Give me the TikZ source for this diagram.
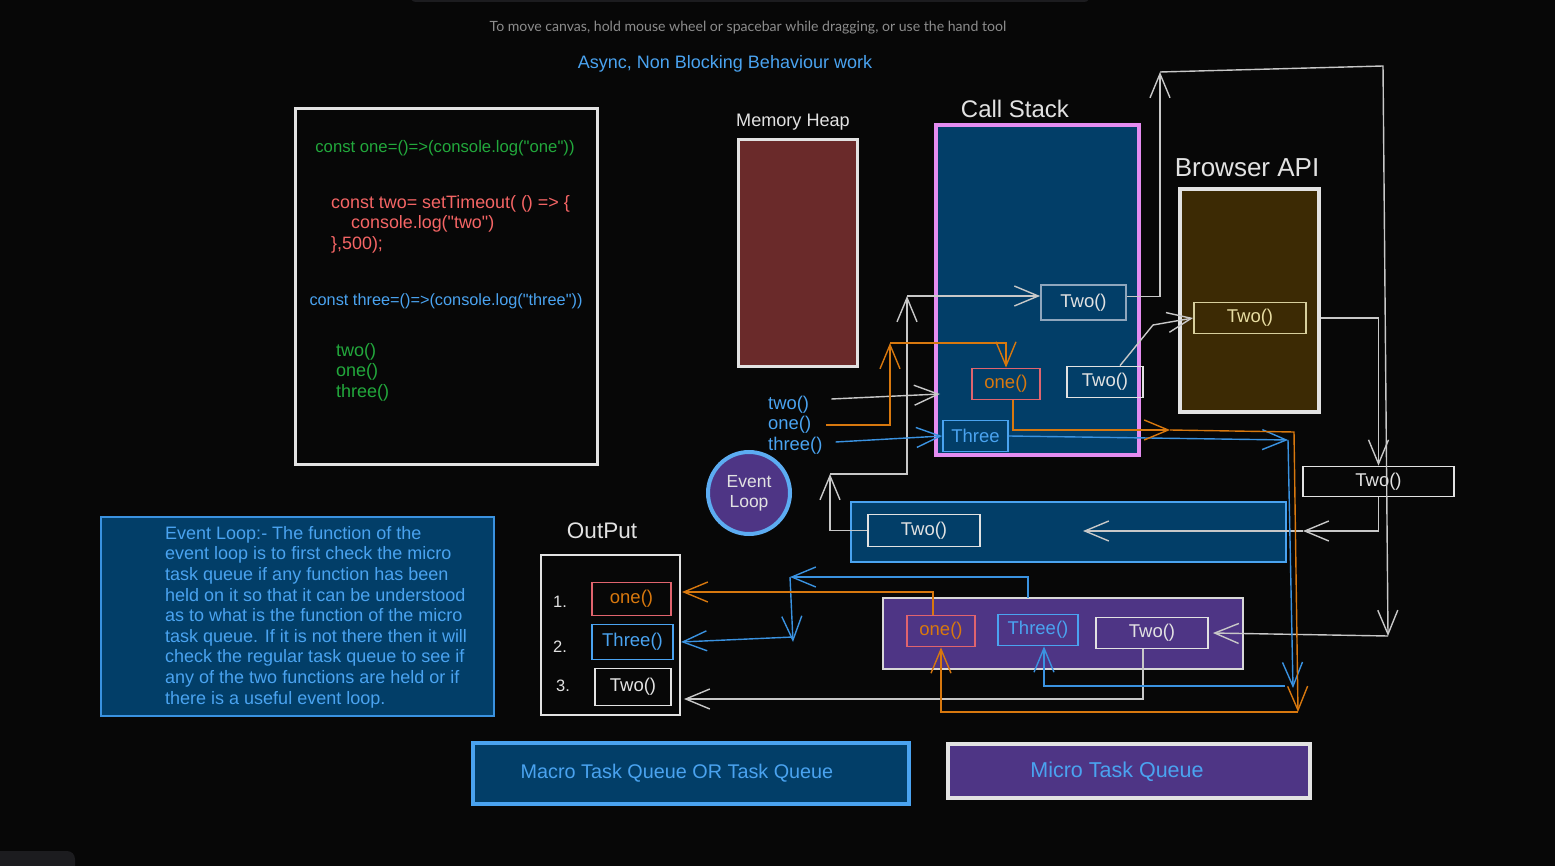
\documentclass[tikz,border=0pt]{standalone}
\usepackage{fontspec}
\setmainfont{Liberation Sans}[Ligatures=TeXOff]
\newfontfamily\hintfont{Lato}
\usetikzlibrary{arrows.meta}
\definecolor{bgdark}{HTML}{070707}
\definecolor{barbg}{HTML}{1C1C1F}
\definecolor{hintgray}{HTML}{8C8C8C}
\definecolor{skyblue}{HTML}{4AA3F0}
\definecolor{lineblue}{HTML}{3A92E0}
\definecolor{navyfill}{HTML}{023E68}
\definecolor{purplefill}{HTML}{4E3585}
\definecolor{heapred}{HTML}{6A2A2A}
\definecolor{apibrown}{HTML}{3C2A04}
\definecolor{stackpink}{HTML}{E48CF0}
\definecolor{edgewhite}{HTML}{E2E2E2}
\definecolor{linegray}{HTML}{C8C8C8}
\definecolor{fnorange}{HTML}{D8780E}
\definecolor{fnred}{HTML}{E0646E}
\definecolor{codered}{HTML}{F56565}
\definecolor{codegreen}{HTML}{22A83C}
\definecolor{slateedge}{HTML}{8FA6BD}
\definecolor{cream}{HTML}{E8DDA2}
\tikzset{
  panel/.style={draw, inner sep=0pt, line width=3pt},
  fnbox/.style={draw, inner sep=0pt, line width=1.8pt, font=\fontsize{18.5}{20}\selectfont},
  heading/.style={text=edgewhite, inner sep=0pt},
  garrow/.style={draw=linegray, line width=1.4pt, -{Straight Barb[length=24pt,width=20pt]}},
  barrow/.style={garrow, draw=lineblue},
  oarrow/.style={garrow, draw=fnorange},
}
\begin{document}
\begin{tikzpicture}[x=1pt,y=-1pt]
\fill[bgdark] (0,0) rectangle (1555,866);
\useasboundingbox (0,0) rectangle (1555,866);
\fill[barbg, rounded corners=6pt] (410,-8) rectangle (1090,2);
\fill[barbg, rounded corners=8pt] (-10,851) rectangle (75,880);
\node[text=hintgray, font=\hintfont\fontsize{14.1}{16}\selectfont] (hint) at (748,28) {To move canvas, hold mouse wheel or spacebar while dragging, or use the hand tool};
\node[text=skyblue, font=\fontsize{18}{21}\selectfont] (title) at (725,64) {Async, Non Blocking Behaviour work};

\node[panel, draw=edgewhite, fill=bgdark, minimum width=302pt, minimum height=355pt] (code) at (446,286.5) {};
\node[text=codegreen, font=\fontsize{16.7}{20.5}\selectfont] (lineOne) at (445,148) {const one=()=>(console.log("one"))};
\node[text=codered, font=\fontsize{17.9}{20.5}\selectfont, align=left, anchor=north west, inner sep=0pt] (lineTwo) at (331,195) {const two= setTimeout( () => \{\\\hspace*{20pt}console.log("two")\\\},500);};
\node[text=skyblue, font=\fontsize{16.3}{20.5}\selectfont] (lineThree) at (446,301) {const three=()=>(console.log("three"))};
\node[text=codegreen, font=\fontsize{18}{20.5}\selectfont, align=left, anchor=north west, inner sep=0pt] (calls) at (336,343) {two()\\one()\\three()};

\node[heading, font=\fontsize{18.1}{21}\selectfont] (heapLabel) at (793,122) {Memory Heap};
\node[panel, draw=edgewhite, fill=heapred, minimum width=119pt, minimum height=227pt] (heap) at (797.5,253.5) {};
\node[heading, font=\fontsize{24}{28}\selectfont] (stackLabel) at (1015,109) {Call Stack};
\node[panel, draw=stackpink, fill=navyfill, line width=3.5pt, minimum width=203pt, minimum height=330pt] (stack) at (1037.5,290) {};
\node[heading, font=\fontsize{26}{30}\selectfont] (browserLabel) at (1247,168) {Browser API};
\node[panel, draw=edgewhite, fill=apibrown, line width=3.5pt, minimum width=139pt, minimum height=223pt] (browser) at (1249.5,300.5) {};

\node[fnbox, draw=slateedge, text=edgewhite, minimum width=85pt, minimum height=35pt] (stackTwoA) at (1083.5,302.5) {Two()};
\node[fnbox, draw=fnred, text=fnorange, minimum width=68pt, minimum height=31pt] (stackOne) at (1006,384) {one()};
\node[fnbox, draw=edgewhite, text=edgewhite, minimum width=76pt, minimum height=31pt] (stackTwoB) at (1105,382) {Two()};
\node[fnbox, draw=skyblue, text=skyblue, minimum width=65pt, minimum height=31pt] (stackThree) at (975.5,436) {Three};
\node[fnbox, draw=cream!85!gray, text=cream, minimum width=112pt, minimum height=31pt] (apiTwo) at (1250,318) {Two()};
\node[fnbox, draw=edgewhite, text=edgewhite, fill=bgdark, minimum width=151pt, minimum height=30pt] (waitTwo) at (1378.5,481.5) {Two()};

\node[draw=skyblue, line width=2pt, fill=navyfill, minimum width=435pt, minimum height=60pt] (macroQ) at (1068.5,532) {};
\node[fnbox, draw=edgewhite, text=edgewhite, minimum width=112pt, minimum height=32pt] (macroTwo) at (924,530.5) {Two()};
\node[draw=edgewhite!90!gray, line width=2pt, fill=purplefill, minimum width=360pt, minimum height=71pt] (microQ) at (1063,633.5) {};
\node[fnbox, draw=fnred, text=fnorange, minimum width=68pt, minimum height=31pt] (microOne) at (941,631) {one()};
\node[fnbox, draw=skyblue, text=skyblue, minimum width=80pt, minimum height=31pt] (microThree) at (1038,630) {Three()};
\node[fnbox, draw=edgewhite, text=edgewhite, minimum width=112pt, minimum height=31pt] (microTwo) at (1152,633) {Two()};

\node[circle, draw=skyblue!90!white, line width=4pt, fill=purplefill, minimum size=82pt, inner sep=0pt, text=edgewhite, align=center, font=\fontsize{17.5}{20}\selectfont] (loop) at (749,493) {Event\\Loop};
\node[text=skyblue, font=\fontsize{18.4}{20}\selectfont, anchor=west, inner sep=0pt] (callTwo) at (768,405) {two()};
\node[text=skyblue, font=\fontsize{18.4}{20}\selectfont, anchor=west, inner sep=0pt] (callOne) at (768,425) {one()};
\node[text=skyblue, font=\fontsize{18.4}{20}\selectfont, anchor=west, inner sep=0pt] (callThree) at (768,446) {three()};

\node[heading, font=\fontsize{22.5}{26}\selectfont] (outLabel) at (602,531) {OutPut};
\node[draw=edgewhite, line width=2pt, minimum width=139pt, minimum height=160pt] (output) at (610.5,635) {};
\node[heading, font=\fontsize{16.5}{20}\selectfont] (numOne) at (560,602) {1.};
\node[heading, font=\fontsize{16.5}{20}\selectfont] (numTwo) at (560,647) {2.};
\node[heading, font=\fontsize{16.5}{20}\selectfont] (numThree) at (563,686) {3.};
\node[fnbox, draw=fnred, text=fnorange, minimum width=79pt, minimum height=33pt] (outOne) at (631.5,599) {one()};
\node[fnbox, draw=skyblue, text=skyblue, minimum width=81pt, minimum height=35pt] (outThree) at (632.5,642) {Three()};
\node[fnbox, draw=edgewhite, text=edgewhite, minimum width=76pt, minimum height=37pt] (outTwo) at (633,687) {Two()};

\node[draw=lineblue, line width=1.5pt, fill=navyfill, minimum width=393pt, minimum height=199pt] (note) at (297.5,616.5) {};
\node[text=skyblue, font=\fontsize{18}{20.6}\selectfont, align=left, anchor=north west, inner sep=0pt] (noteText) at (165,526) {Event Loop:- The function of the\\event loop is to first check the micro\\task queue if any function has been\\held on it so that it can be understood\\as to what is the function of the micro\\task queue. If it is not there then it will\\check the regular task queue to see if\\any of the two functions are held or if\\there is a useful event loop.};

\node[draw=skyblue, line width=4pt, fill=navyfill, minimum width=436pt, minimum height=61pt] (macroKey) at (691,773.5) {};
\node[text=skyblue, font=\fontsize{19.8}{23}\selectfont] (macroKeyText) at (677,773) {Macro Task Queue OR Task Queue};
\node[draw=edgewhite, line width=4pt, fill=purplefill, minimum width=362pt, minimum height=54pt] (microKey) at (1129,771) {};
\node[text=skyblue, font=\fontsize{21.5}{24}\selectfont] (microKeyText) at (1117,772) {Micro Task Queue};

\coordinate (stackEntry) at (940,394);
\coordinate (macroExit) at (830,474);
\coordinate (stackRise) at (907,296);
\coordinate (stackTop) at (1160,72);
\coordinate (farTop) at (1383,66);
\coordinate (farFoot) at (1388,636);
\coordinate (apiBend) at (1153,325);
\coordinate (queueTurn) at (1303,531);
\coordinate (macroTip) at (1083,531);
\coordinate (outTwoTip) at (684,699);
\coordinate (threeTurn) at (1288,440);
\coordinate (threeFoot) at (1293,688);
\coordinate (threeBack) at (1285,686);
\coordinate (outThreeTurn) at (790,577);
\coordinate (outThreeFoot) at (793,642);
\coordinate (oneRise) at (890,343);
\coordinate (oneTurn) at (1170,430);
\coordinate (oneCorner) at (1294,432);
\coordinate (oneFoot) at (1298,712);
\coordinate (outOneTip) at (682,592);

\draw[garrow] ([xshift=22pt,yshift=6pt]callTwo.east) -- (stackEntry);
\draw[garrow] (macroTwo.west) -| (macroExit);
\draw[garrow] (macroExit) -| (stackRise);
\draw[garrow] (stackRise) -- (stackTwoA.west |- stackRise);
\draw[garrow] ([yshift=6pt]stackTwoA.east) -| (stackTop);
\draw[garrow] (stackTop) -- (farTop) -- (farFoot);
\draw[garrow] (farFoot) -- ([xshift=4pt]microTwo.east);
\draw[garrow] ([xshift=15pt]stackTwoB.north) -- (apiBend) -- (apiTwo.west);
\draw[garrow] (browser.east |- apiTwo.east) -| (waitTwo.north);
\draw[garrow] (waitTwo.south) |- (queueTurn);
\draw[garrow] (queueTurn) -- (macroTip);
\draw[garrow] ([xshift=-9pt]microTwo.south) |- (outTwoTip);

\draw[barrow] ([xshift=13pt,yshift=4pt]callThree.east) -- (stackThree.west);
\draw[barrow] (stackThree.east) -- (threeTurn);
\draw[barrow] (threeTurn) -- (threeFoot);
\draw[barrow] (threeBack) -| ([xshift=6pt]microThree.south);
\draw[barrow, shorten <=16pt] ([xshift=-10pt]microThree.north) |- (outThreeTurn);
\draw[barrow] (outThreeTurn) -- (outThreeFoot);
\draw[barrow] ([yshift=5pt]outThreeFoot) -- (output.east |- outThree.east);

\draw[oarrow] ([xshift=15pt]callOne.east) -| (oneRise);
\draw[oarrow] (oneRise) -| (stackOne.north);
\draw[oarrow] ([xshift=7pt]stackOne.south) |- (oneTurn);
\draw[oarrow] (oneTurn) -- (oneCorner) -- (oneFoot);
\draw[oarrow] (oneFoot) -| (microOne.south);
\draw[oarrow] ([xshift=-8pt]microOne.north) |- (outOneTip);
\end{tikzpicture}
\end{document}
